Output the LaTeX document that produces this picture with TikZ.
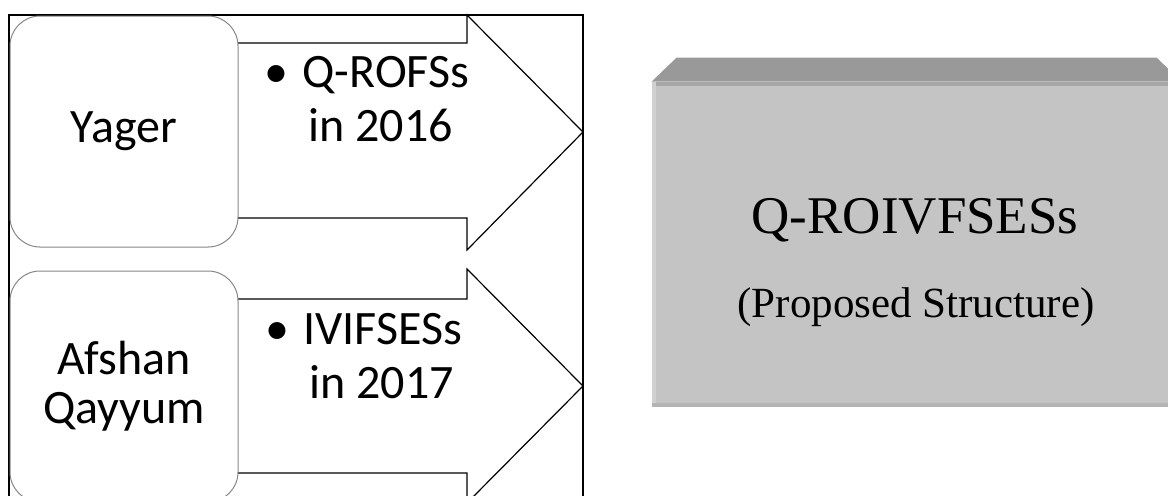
\documentclass[tikz,border=0pt]{standalone}
\usepackage{fontspec}
\setmainfont{Carlito}
\newfontfamily\timesfont{Liberation Serif}
\usetikzlibrary{positioning}
\definecolor{facegray}{RGB}{196,196,196}
\definecolor{topgray}{RGB}{153,153,153}
\definecolor{boxline}{RGB}{135,135,135}
\tikzset{
  srcbox/.style={draw=boxline, fill=white, line width=0.5pt, rounded corners=15pt,
    minimum width=114pt, minimum height=115.5pt, inner sep=0pt,
    align=center, font=\fontsize{24}{24.5}\selectfont},
  blockarrow/.style={draw=black, fill=white, line width=0.6pt, line join=miter},
  item/.style={anchor=base west, align=left, inner sep=0pt,
    font=\fontsize{24}{27}\selectfont},
  face/.style={fill=facegray, minimum width=264.5pt, minimum height=162.5pt, inner sep=0pt},
  bigname/.style={anchor=base, inner sep=0pt, font=\timesfont\fontsize{26.5}{30}\selectfont},
  subname/.style={anchor=base, inner sep=0pt, font=\timesfont\fontsize{21.5}{26}\selectfont},
}

\begin{document}
\begin{tikzpicture}[x=0.5pt, y=-0.5pt]
  \useasboundingbox (0,0) rectangle (1168,495);
  \clip (0,0) rectangle (1168,495);

  % frame round the two sources
  \draw[line width=0.6pt] (9,15) rectangle (583,520);

  % arrows behind the boxes
  \draw[blockarrow] (228,43) -- (467,43) -- (467,15) -- (583,132)
        -- (467,250) -- (467,218) -- (228,218) -- cycle;
  \draw[blockarrow] (228,299) -- (467,299) -- (467,269) -- (583,386)
        -- (467,503) -- (467,473) -- (228,473) -- cycle;

  \node[srcbox] (yager) at (124,131.5) {Yager};
  \node[srcbox, below=11.5pt of yager] (afshan) {Afshan\\Qayyum};

  % base of these nodes is the last line
  \node[item] (qrofs) at (302,141) {\llap{•\hspace{0.3em}}Q-ROFSs\\\hspace*{3pt}in 2016};
  \node[item] (ivif) at (303,398) {\llap{•\hspace{0.3em}}IVIFSESs\\\hspace*{3pt}in 2017};

  % proposed structure block
  \node[face] (qroi) at (916.5,244.5) {};
  \fill[topgray] (qroi.north west) -- ++(25,-24) -- ++(480,0)
        -- (qroi.north east) -- cycle;
  \fill[facegray!85!black] (qroi.north west) rectangle ([yshift=-2pt]qroi.north east);
  \fill[facegray!80!white] (qroi.north west) rectangle ([xshift=2pt]qroi.south west);
  \fill[facegray!92!black] (qroi.south west) rectangle ([yshift=2pt]qroi.south east);

  \node[bigname] (qname) at (915,233) {Q-ROIVFSESs};
  \node[subname] (qsub) at (916,317) {(Proposed Structure)};
\end{tikzpicture}
\end{document}
